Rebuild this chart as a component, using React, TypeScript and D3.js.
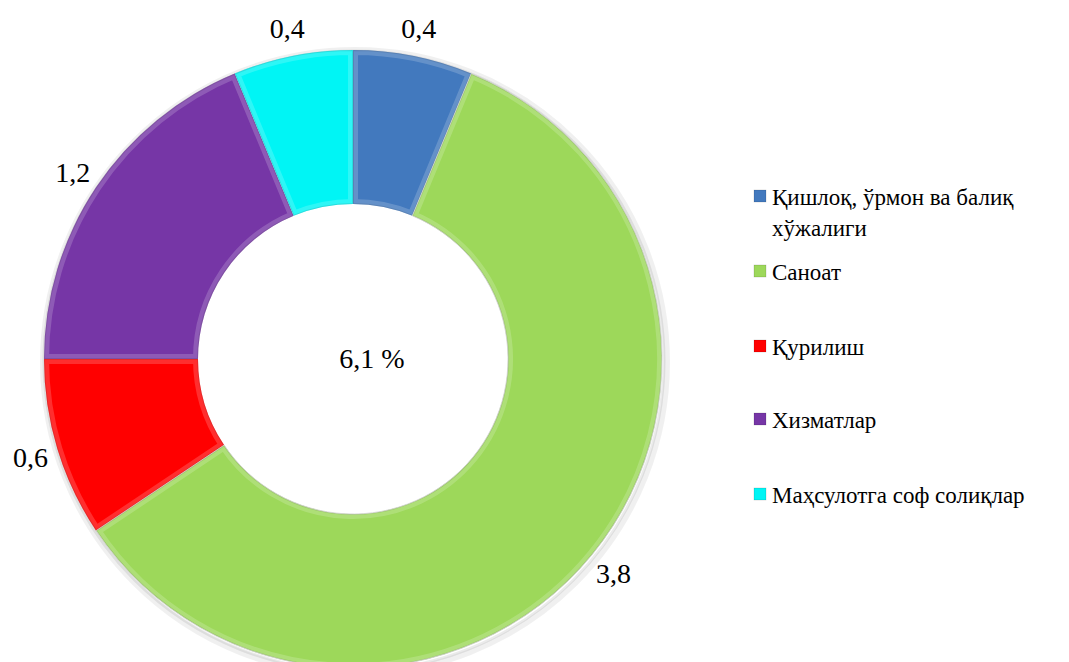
import React, { useEffect, useRef } from 'react'
import * as d3 from 'd3'

const categories = [
  'Қишлоқ, ўрмон ва балиқ хўжалиги',
  'Саноат',
  'Қурилиш',
  'Хизматлар',
  'Маҳсулотга соф солиқлар'
]
const values = [0.4, 3.8, 0.6, 1.2, 0.4]
const valueLabels = ['0,4', '3,8', '0,6', '1,2', '0,4']
const colors = ['#4279be', '#9dd85a', '#ff0000', '#7636a6', '#00f5f5']
const legendLines = [['Қишлоқ, ўрмон ва балиқ', 'хўжалиги'], ['Саноат'], ['Қурилиш'], ['Хизматлар'], ['Маҳсулотга соф солиқлар']]
const totalLabel = '6,1 %'

const W = 1069
const H = 662
const cx = 353
const cy = 359
const outerR = 309
const innerR = 155
const labelR = 337
const FONT = '"Liberation Serif", "Times New Roman", serif'

const App: React.FC = () => {
  const svgRef = useRef<SVGSVGElement>(null)
  const pie = d3.pie<number>().sort(null).value(d => d)
  const arcs = pie(values)
  const arc = d3.arc<d3.PieArcDatum<number>>().innerRadius(innerR).outerRadius(outerR)
  const labelArc = d3.arc<d3.PieArcDatum<number>>().innerRadius(labelR).outerRadius(labelR)

  // legend rows (text baseline of first line)
  const legendY = [205, 280, 355, 428, 503]

  useEffect(() => {
    if (!svgRef.current) return
    d3.select(svgRef.current).selectAll<SVGTextElement, unknown>('text, tspan')
      .each(function () { this.style.setProperty('font-family', FONT, 'important') })
  }, [])

  return (
    <svg ref={svgRef} width={W} height={H} style={{ position: 'absolute', left: 0, top: 0, fontFamily: FONT }}>
      <style>{`svg text, svg tspan { font-family: ${FONT} !important; }`}</style>
      <defs>
        {arcs.map((a, i) => (
          <clipPath id={`clip${i}`} key={i}>
            <path d={arc(a) || ''} />
          </clipPath>
        ))}
      </defs>

      <g transform={`translate(${cx},${cy})`}>
        {/* soft shadow ring */}
        <circle r={outerR + 3} cx={2} cy={3} fill="none" stroke="#000" strokeOpacity={0.06} strokeWidth={6} />
        <circle r={outerR + 1} cx={1} cy={2} fill="none" stroke="#000" strokeOpacity={0.08} strokeWidth={3} />
        {arcs.map((a, i) => (
          <g key={i}>
            <path d={arc(a) || ''} fill={colors[i]} />
            {/* bevel */}
            <path d={arc(a) || ''} fill="none" stroke="#fff" strokeOpacity={0.18}
              strokeWidth={10} clipPath={`url(#clip${i})`} />
            <path d={arc(a) || ''} fill="none" stroke="#000" strokeOpacity={0.1}
              strokeWidth={2} clipPath={`url(#clip${i})`} />
          </g>
        ))}
        <path d={arc(arcs[1]) || ''} fill="none" stroke="#d0d0d0" strokeWidth={0.8} />
      </g>

      {arcs.map((a, i) => {
        const [x, y] = labelArc.centroid(a)
        return (
          <text key={i} x={cx + x} y={cy + y + 10} fontSize={28} textAnchor="middle" fill="#000">
            {valueLabels[i]}
          </text>
        )
      })}

      <text x={372} y={368} fontSize={28} textAnchor="middle" fill="#000">{totalLabel}</text>

      {categories.map((c, i) => (
        <g key={c}>
          <rect x={754} y={legendY[i] - 15} width={12} height={12} fill={colors[i]} stroke="#000" strokeOpacity={0.25} strokeWidth={0.5} />
          <text x={772} y={legendY[i]} fontSize={23} fill="#000">
            {legendLines[i].map((l, j) => (
              <tspan key={j} x={772} dy={j === 0 ? 0 : 31}>{l}</tspan>
            ))}
          </text>
        </g>
      ))}
    </svg>
  )
}

export default App
